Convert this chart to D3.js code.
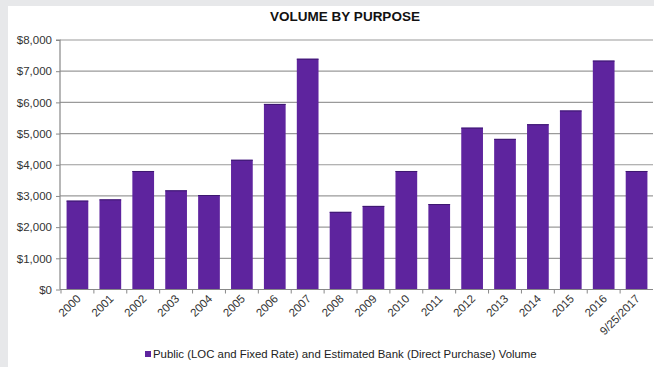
<!DOCTYPE html>
<html><head><meta charset="utf-8">
<script src="https://cdn.jsdelivr.net/npm/d3@7/dist/d3.min.js"></script>
<style>html,body{margin:0;padding:0;background:#e7e8ea;}svg{display:block;}</style>
</head><body>
<svg id="c" width="654" height="367"></svg>
<script>
const categories = ["2000","2001","2002","2003","2004","2005","2006","2007","2008","2009","2010","2011","2012","2013","2014","2015","2016","9/25/2017"];
const values = [2850,2890,3800,3180,3030,4160,5950,7400,2490,2680,3800,2740,5190,4830,5300,5740,7340,3800];
const yTicks = [0,1000,2000,3000,4000,5000,6000,7000,8000];
const title = "VOLUME BY PURPOSE";
const legendLabel = "Public (LOC and Fixed Rate) and Estimated Bank (Direct Purchase) Volume";

(function(){
const svg = d3.select("#c");
svg.append("rect").attr("x",8).attr("y",6).attr("width",646).attr("height",361).attr("fill","#fff");

const mLeft = 60, mRight = 654, mTop = 40, mBottom = 289.5;
const x = d3.scaleBand().domain(categories).range([mLeft, mRight]).paddingInner(0.34).paddingOuter(0.2);
const y = d3.scaleLinear().domain([0,8000]).range([mBottom, mTop]);
const font = "'Liberation Sans', Arial, sans-serif";

// gridlines
svg.append("g").selectAll("line").data(yTicks.filter(d=>d>0)).join("line")
  .attr("x1",mLeft).attr("x2",653).attr("y1",d=>y(d)).attr("y2",d=>y(d))
  .attr("stroke","#9a9a9a").attr("stroke-width",1.2);

// bars
svg.append("g").selectAll("rect").data(values).join("rect")
  .attr("x",(d,i)=>x(categories[i])).attr("width",x.bandwidth())
  .attr("y",d=>y(d)).attr("height",d=>mBottom-y(d))
  .attr("fill","#5e249e");
svg.append("g").selectAll("line").data(values).join("line")
  .attr("x1",(d,i)=>x(categories[i])).attr("x2",(d,i)=>x(categories[i])+x.bandwidth())
  .attr("y1",d=>y(d)+0.5).attr("y2",d=>y(d)+0.5).attr("stroke","#3d1870").attr("stroke-width",1);

// y axis
const yAxis = svg.append("g").attr("transform",`translate(${mLeft},0)`)
  .call(d3.axisLeft(y).tickValues(yTicks).tickSize(4).tickPadding(4).tickFormat(d=>"$"+d3.format(",")(d)));
yAxis.select(".domain").attr("stroke","#888").attr("stroke-width",1.2).attr("d",`M-4,${mTop}H0V${mBottom}`);
yAxis.selectAll(".tick line").attr("stroke","#888");
yAxis.selectAll("text").attr("font-family",font).attr("font-size","11.5px").attr("fill","#333");

// x axis
const xAxis = svg.append("g").attr("transform",`translate(0,${mBottom})`)
  .call(d3.axisBottom(x).tickSize(0).tickSizeOuter(0));
xAxis.select(".domain").attr("stroke","#888").attr("stroke-width",1.2).attr("d",`M${mLeft},0H653`);
xAxis.append("g").selectAll("line").data(categories).join("line")
  .attr("x1",d=>x(d)-x.step()*x.paddingInner()/2).attr("x2",d=>x(d)-x.step()*x.paddingInner()/2)
  .attr("y1",0).attr("y2",4).attr("stroke","#888");
xAxis.selectAll(".tick text")
  .attr("font-family",font).attr("font-size","11.5px").attr("fill","#333")
  .attr("text-anchor","end").attr("dy",0).attr("y",0)
  .attr("transform","translate(4,10) rotate(-45)");

// title
svg.append("text").attr("x",345).attr("y",21).attr("text-anchor","middle")
  .attr("font-family",font).attr("font-weight","bold").attr("font-size","13.5px").attr("fill","#111")
  .text(title);

// legend
svg.append("rect").attr("x",145).attr("y",351).attr("width",6).attr("height",6).attr("fill","#5e249e");
svg.append("text").attr("x",153).attr("y",358).attr("font-family",font).attr("font-size","11.4px")
  .attr("fill","#222").text(legendLabel);
})();
</script>
</body></html>
